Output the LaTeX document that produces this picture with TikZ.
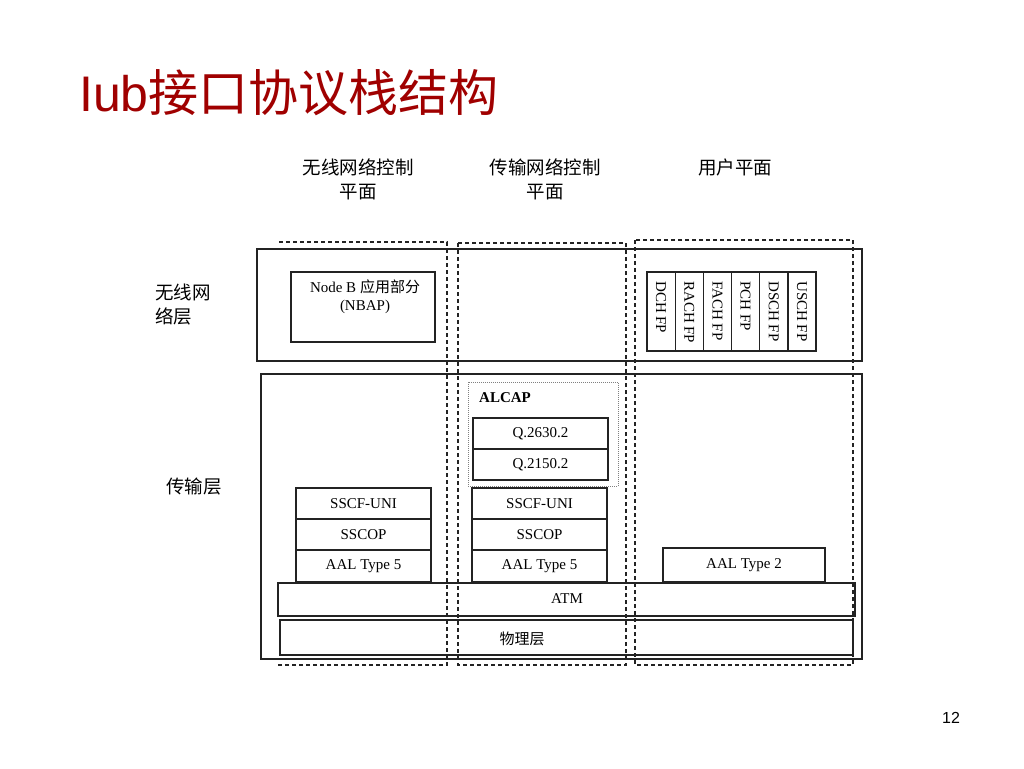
\documentclass[tikz,border=0pt]{standalone}
\usepackage{fontspec}
\setmainfont{Liberation Serif}
\newfontfamily\cjk{Noto Sans CJK SC}
\newfontfamily\arial{Liberation Sans}
\definecolor{titlered}{RGB}{160,0,0}
\definecolor{linegray}{RGB}{35,35,35}
\begin{document}
\begin{tikzpicture}[x=1pt,y=-1pt,
  box/.style={draw=linegray, line width=1.3pt, inner sep=0pt, outer sep=0pt, font=\fontsize{15}{17}\selectfont},
  col/.style={draw=linegray, line width=1.2pt, dash pattern=on 4pt off 3pt},
  dotbox/.style={draw=gray, line width=1pt, dash pattern=on 1pt off 1pt, inner sep=0pt, outer sep=0pt},
  hdr/.style={font=\cjk\fontsize{18.5}{24}\selectfont, align=center, inner sep=0pt},
  side/.style={font=\cjk\fontsize{18.5}{24}\selectfont, align=left, inner sep=0pt, anchor=north west},
  fp/.style={rotate=-90, anchor=west, inner sep=0pt, font=\fontsize{15}{17}\selectfont},
  txt/.style={inner sep=0pt, font=\fontsize{15}{18}\selectfont, align=center}]
\useasboundingbox (0,0) rectangle (1024,768);
\fill[white] (0,0) rectangle (1024,768);

% title
\node[anchor=base west, inner sep=0pt, text=titlered, font=\fontsize{50}{60}\selectfont] (title) at (79,111) {{\arial Iub}{\cjk 接口协议栈结构}};

% column headers
\node[hdr] (h1) at (358,179) {无线网络控制\\平面};
\node[hdr] (h2) at (545,179) {传输网络控制\\平面};
\node[hdr] (h3) at (735,167) {用户平面};

% side labels
\node[side] (s1) at (155,284) {无线网\\络层};
\node[side] (s2) at (166,478) {传输层};

% dashed columns
\draw[col] (279,242) -- (447,242) -- (447,665) -- (276,665);
\draw[col] (458,243) rectangle (626,665);
\draw[col] (635,240) rectangle (853,665);

% radio network layer
\node[box, minimum width=605pt, minimum height=112pt] (radio) at (559.5,305) {};
\node[box, minimum width=144pt, minimum height=70pt] (nbap) at (363,307) {};
\node[txt] (nbapt) at (365,297) {Node B {\cjk 应用部分}\\(NBAP)};

% FP boxes
\foreach \i/\t in {0/DCH FP,1/RACH FP,2/FACH FP,3/PCH FP,4/DSCH FP,5/USCH FP}{
  \pgfmathsetmacro{\cx}{661.1+28.17*\i}
  \node[box, minimum width=28.17pt, minimum height=79pt] (fp\i) at (\cx,311.5) {};
  \node[fp] (fpt\i) at (\cx,281) {\t};
}

% transport layer
\node[box, minimum width=601pt, minimum height=285pt] (trans) at (561.5,516.5) {};
\node[dotbox, minimum width=150pt, minimum height=104pt] (alcap) at (543,434) {};
\node[anchor=west, inner sep=0pt, font=\bfseries\fontsize{15}{17}\selectfont] (alcapt) at (479,398) {ALCAP};
\node[box, minimum width=135pt, minimum height=31pt] (q2630) at (540.5,433.5) {Q.2630.2};
\node[box, minimum width=135pt, minimum height=31pt] (q2150) at (540.5,464.5) {Q.2150.2};

\node[box, minimum width=135pt, minimum height=31pt] (sscfa) at (363.5,503.5) {SSCF-UNI};
\node[box, minimum width=135pt, minimum height=31pt] (sscopa) at (363.5,534.5) {SSCOP};
\node[box, minimum width=135pt, minimum height=32pt] (aal5a) at (363.5,566) {AAL Type 5};

\node[box, minimum width=135pt, minimum height=31pt] (sscfb) at (539.5,503.5) {SSCF-UNI};
\node[box, minimum width=135pt, minimum height=31pt] (sscopb) at (539.5,534.5) {SSCOP};
\node[box, minimum width=135pt, minimum height=32pt] (aal5b) at (539.5,566) {AAL Type 5};

\node[box, minimum width=162pt, minimum height=34pt] (aal2) at (744,565) {AAL Type 2};

\node[box, minimum width=577pt, minimum height=33pt] (atm) at (566.5,599.5) {};
\node[txt] (atmt) at (567,599) {ATM};
\node[box, minimum width=573pt, minimum height=35pt] (phys) at (566.5,637.5) {};
\node[txt, font=\cjk\fontsize{15}{18}\selectfont] (physt) at (522,639) {物理层};

% page number
\node[inner sep=0pt, font=\arial\fontsize{16}{18}\selectfont] (page) at (951,718) {12};
\end{tikzpicture}
\end{document}
